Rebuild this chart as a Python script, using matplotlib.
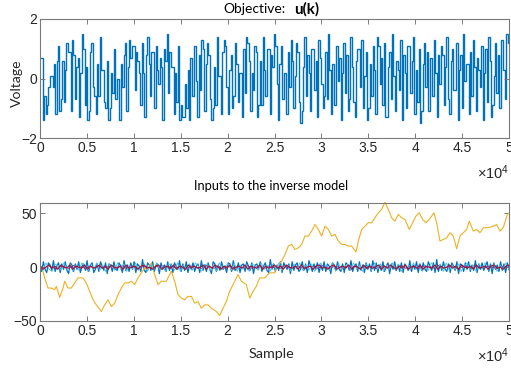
import numpy as np
import matplotlib
matplotlib.use("Agg")
import matplotlib.pyplot as plt

# ---------------- data ----------------
# Objective u(k): step levels, spread evenly over 0..50000 samples
u_levels = [
0.7, 0.7, -1.4, -0.6, -1.2, -0.9, -0.3, 0.1, 0.1, -0.3, 0.5, -1.2, 0.6, 1.1, -1.1, -0.7, 0.6, -0.8, 0.3, 1.2,
0.9, 0.9, -1.1, 1.3, 0.8, -0.7, 0.4, 0.7, -1.3, 0.2, 1.5, 1.0, -0.9, 0.4, -1.4, -1.1, 0.9, 1.2, -0.3, -0.6,
-1.2, 0.5, -0.6, 1.4, 0.3, 0.3, -0.8, -1.0, 0.6, -1.4, -1.0, 0.2, -0.5, 1.0, -0.7, 0.0, 0.0, -1.4, 0.5, -0.3,
0.8, 1.2, -1.1, 0.4, 1.3, 0.7, 1.1, 1.1, -0.4, 0.9, 0.6, 0.2, -0.9, 1.2, 0.2, -1.3, 0.8, 1.4, 0.5, -0.6,
0.9, 0.9, -1.0, 1.1, 0.3, -0.2, 0.7, 0.4, -1.4, 1.0, 0.6, 1.5, -0.5, 0.9, 0.4, 0.4, -1.2, 0.2, -0.8, 1.1,
-1.4, -0.9, -1.3, -1.3, -0.2, -1.0, 0.3, -1.4, 0.7, -0.6, -0.6, 1.1, -0.1, -1.3, 0.8, -0.4, 1.3, 1.0, -1.1, 0.5,
1.2, 0.8, -0.7, -1.4, -1.0, 0.4, -0.9, 1.4, 0.1, 0.1, -1.2, 0.9, 1.3, 1.1, -0.3, -1.2, 0.3, 0.8, -1.0, -0.6,
1.2, 0.5, -0.8, 0.2, 0.2, -1.3, 1.0, -0.5, 1.4, 1.2, 0.6, -1.1, 0.2, -0.4, 1.1, 0.9, -1.3, -0.9, 0.6, -0.9,
1.4, 0.3, -0.6, 1.0, 1.0, -1.2, 0.8, 0.4, 1.5, 1.1, -0.2, -1.4, 0.5, 1.1, -0.7, 0.2, 0.2, -1.2, 0.9, -0.3,
1.3, 0.6, -1.0, 0.1, 1.2, 0.9, -0.8, -1.5, -1.1, 0.4, 1.4, -0.6, 0.8, 0.2, -1.1, 1.0, 1.0, -0.4, 0.6, -1.3,
1.3, 0.7, -0.2, -1.0, -0.6, 0.9, -0.7, 1.5, 0.3, -1.2, 0.5, -0.9, -0.9, 1.1, -0.1, 0.7, -1.4, 0.2, 1.2, -0.5,
0.8, -1.1, -0.7, 1.4, 0.4, -0.8, -1.3, 0.6, 1.0, 1.0, -0.3, 1.3, -1.0, 0.1, 0.9, -1.4, -1.0, 0.5, -0.6, 1.1,
0.3, -1.2, 1.4, 1.1, -0.2, 0.7, -0.9, 1.2, -1.3, -1.3, 0.4, 0.9, -0.7, 1.5, 0.1, -1.1, 0.6, 0.3, -0.4, 1.3,
-1.4, 0.8, 0.2, -1.0, 1.1, 1.1, -0.5, 0.6, 1.4, -1.2, 0.3, -0.8, 1.0, -1.5, -1.1, 0.5, 1.2, -0.3, 0.9, -1.1,
0.7, 0.7, -0.6, 1.3, 0.2, -1.3, 0.8, -0.2, 1.1, 0.8, -0.9, 0.4, 1.4, -0.7, -1.2, 0.6, 1.0, -0.4, -0.4, 1.2,
-1.4, 0.3, 0.8, -1.0, 1.5, -0.1, 0.5, 0.5, -1.2, 0.9, -0.6, 1.3, 0.4, -1.1, 0.7, 0.3, -0.3, 1.1, -1.4, 0.2,
1.0, -0.8, 1.4, 0.6, -1.3, -0.9, 0.1, 1.2, -0.5, 0.8, -1.0, 1.3, 1.3, 0.3, -0.7, 1.5, 1.2,
]

# Inverse-model inputs: slow drifting signal (sample, value)
walk_samples = [0, 213, 497, 853, 1208, 1564, 1741, 2097, 2452, 2630, 2985, 3340, 3696, 4051, 4584, 4940,
    5295, 5650, 6006, 6539, 6895, 7250, 7605, 7961, 8316, 8671, 9027, 9382, 9737, 10093, 10448, 10803,
    11159, 11513, 11870, 12225, 12580, 12936, 13469, 14002, 14357, 14712, 15068, 15423, 15778, 16134,
    16489, 16844, 17200, 17555, 17910, 18266, 18799, 19154, 19510, 19865, 20220, 20576, 21109, 21464,
    21997, 22353, 22708, 23063, 23419, 23952, 24485, 25018, 25230, 25762, 26117, 26473, 26828, 27183,
    27539, 27894, 28249, 28605, 28960, 29315, 29671, 30026, 30381, 30737, 31092, 31447, 31803, 32158,
    32513, 32869, 33224, 33686, 33935, 34290, 34645, 35001, 35356, 35711, 36067, 36422, 36777, 37133,
    37488, 37843, 38199, 38554, 38909, 39371, 39727, 40082, 40437, 40793, 41148, 41503, 42001, 42285,
    42641, 42996, 43351, 43707, 44062, 44417, 44773, 45128, 45483, 45768, 46194, 46549, 46905, 47260,
    47793, 48326, 48681, 49037, 49392, 49818, 50000]
walk_values = [0, -0.6, -10, -19.4, -19.4, -20.9, -17.8, -28.1, -19.4, -13.1, -19.4, -19.4, -14.7, -10, -10, -14.7,
    -22.5, -30.3, -35, -41.2, -35, -30.3, -36.6, -33.4, -25.6, -19.4, -14.7, -14.7, -13.1, -16.2, -10, -5.3,
    -0.6, -2.2, 4.1, -6.9, -16.2, -13.1, -13.1, -3.8, -13.1, -25.6, -28.7, -30.3, -27.2, -27.2,
    -33.4, -31.9, -38.1, -35, -35, -38.1, -41.2, -45, -38.1, -31.9, -22.5, -16.2, -6.9, -13.1,
    -16.2, -28.7, -22.5, -17.8, -10, -10, -5.3, -5.3, -0.6, 5.6, 11.8, 19.5, 21.1, 16.4,
    18, 21.1, 28.8, 28.8, 33.5, 39.6, 35, 28.8, 38.1, 35, 28.8, 30.4, 24.2, 21.1,
    21.1, 19.5, 19.5, 14, 24.2, 35, 38.1, 41.2, 41.2, 45.8, 50.5, 53.6, 60.4, 53.6,
    45.8, 42.7, 49, 45.8, 44.3, 35, 41.2, 47.4, 50.5, 44.3, 41.2, 44.3, 50.5, 41.2,
    24.2, 25.7, 27.2, 31.9, 28.8, 17.1, 28.8, 31.9, 35, 42.7, 33.5, 35, 31.9, 36.6,
    36.6, 38.1, 39.6, 33.5, 36.6, 48.9, 50]

# fast inputs near zero (estimated amplitudes)
in_blue = [3,-4,5,-2,-5,4,2,-3,6,-4,1,4,-5,3,-2,5,-3,-6,4,2,-4,3,-2,5,-5,1,3,-3,6,-4,2,4,-5,-2,3,-4,5,1,-3,4,
    -6,3,2,-4,5,-2,-3,4,1,-5,6,-3,2,-4,4,-2,5,-5,3,1,-4,7,-3,-5,4,2,-3,5,-4,1,3,-6,4,-2,2,-4,5,-3,3,-5,
    4,1,-2,6,-4,3,-3,5,-5,2,-2,4,-4,1,3,-5,6,-3,2,-4,4,-2,-6,5,3,-4,2,-3,5,-2,1,-5,4,3,-4,6,-3,-2,4,-5,
    2,3,-4,5,1,-3,4,-6,2,3,-2,5,-4,1,4,-3,-5,7,-2,3,-4,2,-3,5,-5,4,1,-2,3,-6,5,-3,2,4,-4,-2,5,-3,3,-5,
    6,1,-4,3,-2,4,-5,2,-3,5,-4,3,1,-6,4,2,-3,5,-2,-4,3,-5,4,2,-3,6,-4,1,3,-4,5,-3,2,-5,4,-2,3,-4,6,-3,
    4,-5,2,-3,5,-4,1,4,-6,3,-2,5,-3,2,-4,4,-5,3,1,-3,6,-4,2,-2,5,-5,3,-3,4,-2,-4,5,1,-3,4,-5,7,-4,2,-3,
    5,-2,-4,3,-5,4,1,-3,5,-6,3,2,-4,4,-2,5,-4,2,-3,6,-5,3,-2,4,-3,1,5,-4,3,-6,4,-2,2,-4,5,-3,3,-5,4,-2]
in_lightblue = [2,-3,4,-2,-4,3,1,-3,4,-2,3,-4,2,-3,4,1,-4,3,-2,4,-3,2,-4,3,1,-3,4,-2,3,-4,2,-2,4,-3,1,3,-4,
    2,-3,4,-2,1,-4,3,2,-3,4,-4,2,-2,3,-3,4,1,-4,2,3,-3,2,-4,4,-2,1,3,-3,4,-4,2,-2,3,-4,3,1,-3,4,-2,2,-4,
    3,-2,4,-3,1,2,-4,3,-2,4,-3,2,-3,3,-4,1,4,-2,2,-3,4,-4,3,-2,1,3,-3,4,-2,2,-4,3,1,-3,4,-2,3,-4,2,-2,
    4,-3,3,-4,2,1,-3,4,-2,3,-4,2,-3,4,1,-2,3,-4,4,-3,2,-2,3,-4,1,4,-3,2,-4,3,-2,4,-3,1,3,-4,2,-2,4,-3]
in_purple = [0.5,-1,1.5,-0.5,-1.5,1,0,-1,1.5,-1,0.5,-1.5,1,-0.5,1.5,-1,0,1,-1.5,0.5,1,-1,1.5,-0.5,-1,1,0,
    -1.5,1,-0.5,1.5,-1,0.5,-1,1,-1.5,0.5,1,-0.5,-1,1.5,0,-1,1,-1.5,0.5,1,-1,0.5,-0.5,1.5,-1,0,1,-1.5,1,
    -0.5,0.5,-1,1.5,-1,0,1,-0.5,-1.5,1,0.5,-1,1.5,-0.5,-1,1,0,-1.5,1,-0.5,1.5,-1,0.5,-1,1,-1.5,0.5,1,-1,
    0.5,-0.5,1.5,-1,0,1,-1.5,1,-0.5,0.5,-1,1.5,-1,0,1,-0.5,-1.5,1,0.5,-1,1.5,-0.5,-1,1,0,-1.5,1,-0.5,1.5]
in_red = [1,-2,0,2,-1,1,-2,2,0,-1,2,-2,1,0,-1,2,-2,1,-1,0,2,-1,1,-2,2,0,-1,1,-2,2,-1,0,1,-2,1,2,-1,0,-2,1,
    2,-2,0,1,-1,2,-2,1,0,-2,2,-1,1,-1,0,2,-2,1,-1,2,0,-2,1,-1,2,-2,0,1,-1,2,-2,1,0,-1,2,-2,1,-1,0,2,
    -1,1,-2,2,0,-1,1,-2,2,-1,0,1,-2,1,2,-1,0,-2,1,2,-2,0,1,-1,2,-2,1,0,-2,2,-1,1,-1,0,2,-2,1,-1,2,0,
    -2,1,-1,2,-2,0,1,-1,2,-2,1,0,-1,2,-2,1,-1,0,2,-1,1,-2,2,0,-1,1,-2,2,-1,0,1,-2,1,2,-1,0,-2,1,2]

n_samples = 50000
xtick_vals = [0, 0.5, 1, 1.5, 2, 2.5, 3, 3.5, 4, 4.5, 5]
xtick_labels = ["0", "0.5", "1", "1.5", "2", "2.5", "3", "3.5", "4", "4.5", "5"]

# ---------------- style ----------------
plt.rcParams['font.family'] = ['Liberation Sans', 'DejaVu Sans']
plt.rcParams['mathtext.fontset'] = 'custom'
plt.rcParams['mathtext.rm'] = 'Liberation Sans'
plt.rcParams['mathtext.it'] = 'Liberation Sans:italic'

AX_COLOR = '#7a7a7a'
TXT_COLOR = '#262626'
BLUE = '#0072BD'
YELLOW = '#EDB120'
PURPLE = '#7E2F8E'
LIGHTBLUE = '#4DBEEE'
RED = '#A2142F'
LABEL_FONT = ['Lato', 'DejaVu Sans']

fig = plt.figure(figsize=(5.11, 3.69), dpi=100)
W, H = 511.0, 369.0
ax1 = fig.add_axes([40 / W, 1 - 138 / H, 469 / W, 119 / H])
ax2 = fig.add_axes([40 / W, 1 - 321 / H, 469 / W, 118.5 / H])

def style(ax):
    for sp in ax.spines.values():
        sp.set_color(AX_COLOR)
        sp.set_linewidth(0.8)
    ax.tick_params(direction='in', length=3.5, width=0.7, colors=AX_COLOR,
                   labelcolor=TXT_COLOR, labelsize=10, top=True, right=True, pad=2)
    ax.set_xlim(0, n_samples)
    ax.set_xticks([v * 1e4 for v in xtick_vals])
    ax.set_xticklabels(xtick_labels)

# top
edges = np.linspace(0, n_samples, len(u_levels) + 1)
ax1.stairs(u_levels, edges, color=BLUE, lw=1.0, baseline=None)
style(ax1)
ax1.set_ylim(-2, 2)
ax1.set_yticks([-2, 0, 2])

# bottom
ax2.plot(np.linspace(0, n_samples, len(in_blue)), in_blue, color=BLUE, lw=0.9)
ax2.plot(walk_samples, walk_values, color=YELLOW, lw=0.8)
ax2.plot(np.linspace(0, n_samples, len(in_purple)), in_purple, color=PURPLE, lw=0.7)
ax2.plot(np.linspace(0, n_samples, len(in_lightblue)), in_lightblue, color=LIGHTBLUE, lw=0.6)
ax2.plot(np.linspace(0, n_samples, len(in_red)), in_red, color=RED, lw=0.8)
style(ax2)
ax2.set_ylim(-50, 60)
ax2.set_yticks([-50, 0, 50])

# texts placed at pixel positions taken from the reference, then sized to the reference widths
def ftext(xp, yp, s, **kw):
    return fig.text(xp / W, 1 - yp / H, s, family=LABEL_FONT, **kw)

t_obj = ftext(223, 9, 'Objective:', ha='left', va='center', fontsize=10, color='black')
t_uk = ftext(319.5, 9, 'u(k)', ha='right', va='center', fontsize=10, fontweight='bold', color='black')
t_in = ftext(271, 186, 'Inputs to the inverse model', ha='center', va='center', fontsize=10, color='black')
t_volt = ftext(17, 83, 'Voltage', ha='center', va='center', rotation=90, fontsize=10.5, color=TXT_COLOR)
t_samp = ftext(271, 354.5, 'Sample', ha='center', va='center', fontsize=10.5, color=TXT_COLOR)

fig.canvas.draw()
r = fig.canvas.get_renderer()
for t, target, use_h in [(t_obj, 62, False), (t_uk, 25, False), (t_in, 155, False),
                         (t_volt, 48, True), (t_samp, 46, False)]:
    bb = t.get_window_extent(r)
    cur = bb.height if use_h else bb.width
    t.set_fontsize(t.get_fontsize() * target / cur)

# exponent labels
for ypix in (163, 346):
    fig.text(509 / W, 1 - ypix / H, r'$\times10^{4}$', ha='right', va='top',
             fontsize=10.5, color=TXT_COLOR)

fig.savefig('out.png', dpi=100)
